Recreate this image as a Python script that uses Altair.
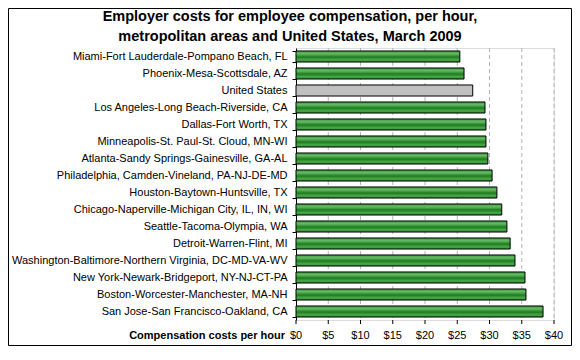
import altair as alt
import pandas as pd

areas = [
    "Miami-Fort Lauderdale-Pompano Beach, FL",
    "Phoenix-Mesa-Scottsdale, AZ",
    "United States",
    "Los Angeles-Long Beach-Riverside, CA",
    "Dallas-Fort Worth, TX",
    "Minneapolis-St. Paul-St. Cloud, MN-WI",
    "Atlanta-Sandy Springs-Gainesville, GA-AL",
    "Philadelphia, Camden-Vineland, PA-NJ-DE-MD",
    "Houston-Baytown-Huntsville, TX",
    "Chicago-Naperville-Michigan City, IL, IN, WI",
    "Seattle-Tacoma-Olympia, WA",
    "Detroit-Warren-Flint, MI",
    "Washington-Baltimore-Northern Virginia, DC-MD-VA-WV",
    "New York-Newark-Bridgeport, NY-NJ-CT-PA",
    "Boston-Worcester-Manchester, MA-NH",
    "San Jose-San Francisco-Oakland, CA",
]
costs = [25.4, 26.05, 27.4, 29.3, 29.45, 29.45, 29.75, 30.4,
         31.15, 31.9, 32.7, 33.2, 33.95, 35.5, 35.65, 38.3]
x_ticks = [0, 5, 10, 15, 20, 25, 30, 35, 40]
x_tick_labels = ["$0", "$5", "$10", "$15", "$20", "$25", "$30", "$35", "$40"]
x_title = "Compensation costs per hour"

df = pd.DataFrame({"area": areas, "cost": costs})
df["is_us"] = df["area"] == "United States"
ticks_df = pd.DataFrame({"v": x_ticks, "label": x_tick_labels})

FONT = "Liberation Sans"
H = 272
W = 258

y_enc = alt.Y(
    "area:N", sort=areas, title=None,
    scale=alt.Scale(paddingInner=0.35, paddingOuter=0.175),
    axis=alt.Axis(tickBand="extent", tickSize=4, labelPadding=5,
                  domainColor="black", tickColor="black",
                  labelColor="black", labelFontSize=11, labelFont=FONT,
                  labelLimit=300),
)
x_scale = alt.Scale(domain=[0, 40], nice=False)
x_enc = alt.X(
    "cost:Q", scale=x_scale, title=None,
    axis=alt.Axis(labels=False, ticks=False, grid=False, domainColor="black"),
)

green = alt.Gradient(
    gradient="linear", x1=0, y1=0, x2=0, y2=1,
    stops=[
        alt.GradientStop(offset=0, color="#3a9a3a"),
        alt.GradientStop(offset=0.25, color="#66bb66"),
        alt.GradientStop(offset=0.55, color="#1c7c1c"),
        alt.GradientStop(offset=0.8, color="#4aa84a"),
        alt.GradientStop(offset=1, color="#2c8c2c"),
    ],
)

ticks_base = alt.Chart(ticks_df)
grid = ticks_base.transform_filter("datum.v > 0").mark_rule(
    color="#b4b4b4", strokeDash=[4, 3], strokeWidth=1
).encode(x=alt.X("v:Q", scale=x_scale, axis=None))
tick_marks = ticks_base.mark_rule(color="black", strokeWidth=1).encode(
    x=alt.X("v:Q", scale=x_scale, axis=None),
    y=alt.value(H), y2=alt.value(H + 4),
)
tick_labels = ticks_base.mark_text(
    font=FONT, fontSize=11, color="black", baseline="middle", align="center"
).encode(
    x=alt.X("v:Q", scale=x_scale, axis=None),
    y=alt.value(H + 16),
    text="label:N",
)
axis_title = alt.Chart(alt.Data(values=[{"t": x_title}])).mark_text(
    font=FONT, fontSize=11, fontWeight="bold", color="black",
    baseline="middle", align="right"
).encode(x=alt.value(-11), y=alt.value(H + 16), text="t:N")

base = alt.Chart(df)
green_bars = base.transform_filter("!datum.is_us").mark_bar(
    color=green, stroke="black", strokeWidth=1
).encode(x=x_enc, y=y_enc)
gray_bars = base.transform_filter("datum.is_us").mark_bar(
    color="#c0c0c0", stroke="black", strokeWidth=1
).encode(x=x_enc, y=y_enc)

border = alt.Chart(alt.Data(values=[{}])).mark_rect(
    fillOpacity=0, stroke="black", strokeWidth=1
).encode(
    x=alt.value(-287.5), x2=alt.value(275.5),
    y=alt.value(-39.5), y2=alt.value(297.5),
)

chart = alt.layer(
    grid, green_bars, gray_bars, tick_marks, tick_labels, axis_title, border
).properties(
    width=W, height=H,
    autosize=alt.AutoSizeParams(type="none"),
    padding={"left": 288, "top": 40, "right": 18, "bottom": 26},
    title=alt.Title(
        ["Employer costs for employee compensation, per hour,",
         "metropolitan areas and United States, March 2009"],
        font=FONT, fontSize=14.5, fontWeight="bold", color="black",
        anchor="middle", frame="group", dx=-135, offset=0, dy=36,
        lineHeight=20,
    ),
).configure_view(stroke=None).configure(background="white")

chart.save("out.html", embed_options={"renderer": "svg", "actions": False})
